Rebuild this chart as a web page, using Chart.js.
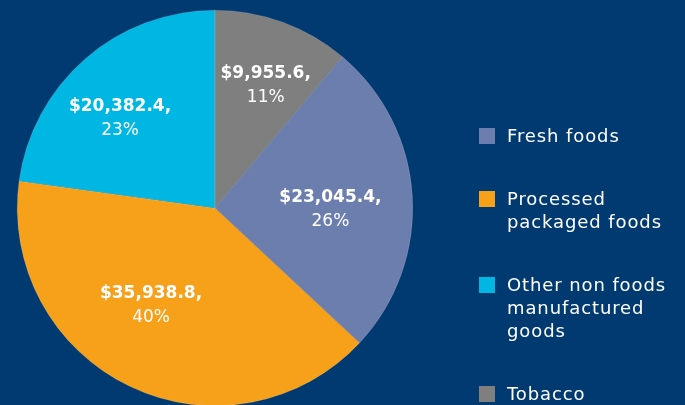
<!DOCTYPE html>
<html>
<head>
<meta charset="utf-8">
<script src="https://cdn.jsdelivr.net/npm/chart.js@4"></script>
<style>
  html, body { margin: 0; padding: 0; background: #003A70; overflow: hidden; }
  #wrap { position: relative; width: 685px; height: 405px; overflow: hidden; }
  #box { position: absolute; left: 0; top: 0; width: 685px; height: 416px; }
  #legend { position: absolute; left: 479px; top: 124px; font-family: "DejaVu Sans", sans-serif;
            font-size: 18px; letter-spacing: 0.9px; line-height: 23px; color: #fff; }
  .item { display: flex; align-items: flex-start; margin-bottom: 40px; }
  .sw { width: 16px; height: 16px; margin-top: 4px; margin-right: 12px; flex: none; }
</style>
</head>
<body>
<div id="wrap">
  <div id="box"><canvas id="pieChart"></canvas></div>
  <div id="legend"></div>
</div>
<script>
// Data
const labels = ['Fresh foods', 'Processed packaged foods', 'Other non foods manufactured goods', 'Tobacco'];
const legendLines = [['Fresh foods'], ['Processed', 'packaged foods'], ['Other non foods', 'manufactured', 'goods'], ['Tobacco']];
const values = [23045.4, 35938.8, 20382.4, 9955.6];
const percents = [26, 40, 23, 11];
const colors = ['#6C7EAD', '#F7A11B', '#00B7E3', '#7F7F7F'];

const total = values.reduce((a, b) => a + b, 0);
// Tobacco is the last slice and ends at 12 o'clock
const rotation = values[3] / total * 360;

// legend
const legend = document.getElementById('legend');
legendLines.forEach((lines, i) => {
  const item = document.createElement('div');
  item.className = 'item';
  item.innerHTML = '<div class="sw" style="background:' + colors[i] + '"></div><div>' + lines.join('<br>') + '</div>';
  legend.appendChild(item);
});

// value labels inside slices (small nudges like the original layout)
const nudge = [[-3, 9], [-13, -10], [-17, 0], [10, -11]];
const sliceLabels = {
  id: 'sliceLabels',
  afterDatasetsDraw(chart) {
    const ctx = chart.ctx;
    const meta = chart.getDatasetMeta(0);
    ctx.save();
    ctx.fillStyle = '#fff';
    ctx.textAlign = 'center';
    ctx.textBaseline = 'middle';
    meta.data.forEach((arc, i) => {
      const mid = (arc.startAngle + arc.endAngle) / 2;
      const r = arc.outerRadius * 0.6;
      const x = arc.x + Math.cos(mid) * r + nudge[i][0];
      const y = arc.y + Math.sin(mid) * r + nudge[i][1];
      ctx.font = 'bold 17px "DejaVu Sans", sans-serif';
      ctx.fillText('$' + values[i].toLocaleString('en-US', { minimumFractionDigits: 1 }) + ',', x, y - 12);
      ctx.font = '17px "DejaVu Sans", sans-serif';
      ctx.fillText(percents[i] + '%', x, y + 12);
    });
    ctx.restore();
  }
};

const ctx = document.getElementById('pieChart').getContext('2d');
new Chart(ctx, {
  type: 'pie',
  data: {
    labels: labels,
    datasets: [{
      data: values,
      backgroundColor: colors,
      borderColor: 'rgba(255,255,255,0.25)',
      borderWidth: 0.5
    }]
  },
  options: {
    responsive: true,
    maintainAspectRatio: false,
    animation: false,
    rotation: rotation,
    layout: { padding: { left: 17, top: 10, right: 272, bottom: 10 } },
    plugins: {
      legend: { display: false },
      tooltip: { enabled: false }
    }
  },
  plugins: [sliceLabels]
});
</script>
</body>
</html>
